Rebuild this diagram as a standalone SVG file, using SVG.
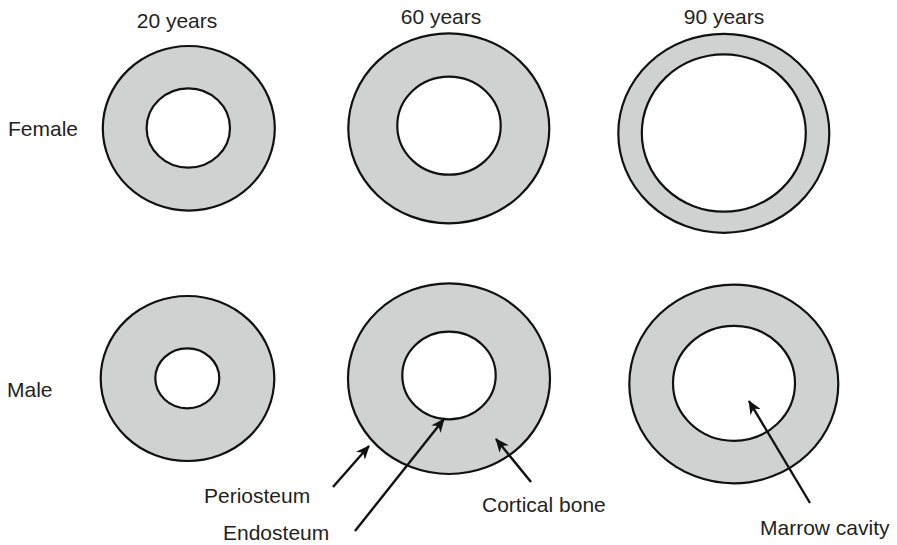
<svg xmlns="http://www.w3.org/2000/svg" width="897" height="545" viewBox="0 0 897 545">
<style>
.bone{fill:#d0d2d1;stroke:#111;stroke-width:2.2}
.cav{fill:#fff;stroke:#111;stroke-width:2.2}
.lbl{font-family:"Liberation Sans",Arial,sans-serif;font-size:21px;fill:#231f20}
.arr{stroke:#111;stroke-width:2.4;fill:none;marker-end:url(#ah)}
</style>
<defs>
<marker id="ah" viewBox="0 0 14 12" refX="13" refY="6" markerWidth="14" markerHeight="12" markerUnits="userSpaceOnUse" orient="auto">
<path d="M0,0 L14,6 L0,12 L4,6 z" fill="#111"/>
</marker>
</defs>
<rect width="897" height="545" fill="#fff"/>
<text class="lbl" x="177" y="28" text-anchor="middle">20 years</text>
<text class="lbl" x="441" y="24" text-anchor="middle">60 years</text>
<text class="lbl" x="724" y="24" text-anchor="middle">90 years</text>
<text class="lbl" x="8" y="136">Female</text>
<text class="lbl" x="7" y="397">Male</text>
<g id="f20"><ellipse class="bone" cx="188.8" cy="128.3" rx="86" ry="82.3"/><ellipse class="cav" cx="188.3" cy="128" rx="41.7" ry="39.7"/></g>
<g id="f60"><ellipse class="bone" cx="448.8" cy="128.3" rx="100.5" ry="95"/><ellipse class="cav" cx="449" cy="125.7" rx="51.7" ry="49"/></g>
<g id="f90"><ellipse class="bone" cx="723.8" cy="133.3" rx="105.5" ry="99.5"/><ellipse class="cav" cx="723.8" cy="133" rx="82" ry="78.7"/></g>
<g id="m20"><ellipse class="bone" cx="187.5" cy="378.5" rx="86.8" ry="82.5"/><ellipse class="cav" cx="187.3" cy="378.3" rx="32" ry="30"/></g>
<g id="m60"><ellipse class="bone" cx="449" cy="378.7" rx="101" ry="95.3"/><ellipse class="cav" cx="449" cy="375.5" rx="46.7" ry="43.8"/></g>
<g id="m90"><ellipse class="bone" cx="733.8" cy="384" rx="104.5" ry="99.3"/><ellipse class="cav" cx="734" cy="383.3" rx="61" ry="57.5"/></g>
<g id="connectors">
<line class="arr" x1="333" y1="487" x2="369" y2="446"/>
<line class="arr" x1="355" y1="531" x2="444" y2="419"/>
<line class="arr" x1="531" y1="482" x2="496" y2="439"/>
<line class="arr" x1="810" y1="503" x2="749" y2="401"/>
</g>
<text class="lbl" x="204" y="503">Periosteum</text>
<text class="lbl" x="223" y="540">Endosteum</text>
<text class="lbl" x="482" y="512">Cortical bone</text>
<text class="lbl" x="760" y="535">Marrow cavity</text>
</svg>
